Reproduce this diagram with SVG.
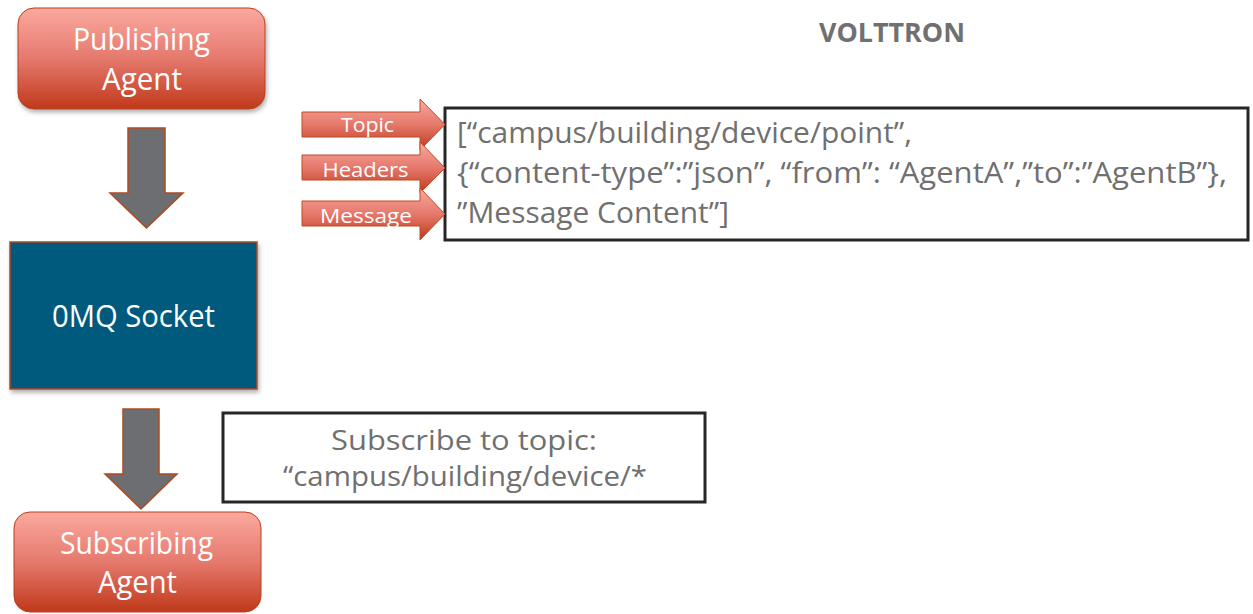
<svg xmlns="http://www.w3.org/2000/svg" width="1253" height="614" viewBox="0 0 1253 614">
  <defs>
    <linearGradient id="redGrad" x1="0" y1="0" x2="0" y2="1">
      <stop offset="0" stop-color="#fba99f"/>
      <stop offset="0.5" stop-color="#e5796d"/>
      <stop offset="1" stop-color="#c0391a"/>
    </linearGradient>
    <filter id="shadow" x="-10%" y="-10%" width="125%" height="130%">
      <feDropShadow dx="1.5" dy="3" stdDeviation="2" flood-color="#000" flood-opacity="0.3"/>
    </filter>
    <style>
      .agent { fill: url(#redGrad); stroke: #b8401c; stroke-width: 1; }
      .small { fill: url(#redGrad); stroke: #bf4a22; stroke-width: 1; }
      .gray { fill: #6d6e71; stroke: #b04a20; stroke-width: 1.5; }
      .box { fill: #ffffff; stroke: #262626; stroke-width: 3; }
      .wt { font-family: "Open Sans", "Liberation Sans", sans-serif; fill: #ffffff; text-anchor: middle; }
      .gt { font-family: "Open Sans", "Liberation Sans", sans-serif; fill: #707070; }
    </style>
  </defs>
  <rect width="1253" height="614" fill="#ffffff"/>

  <text x="892" y="42" font-family="'Open Sans', 'Liberation Sans', sans-serif" font-weight="bold" font-size="27" fill="#707070" text-anchor="middle" textLength="146" lengthAdjust="spacingAndGlyphs">VOLTTRON</text>

  <g id="connectors">
    <path class="gray" d="M128,128 H165 V193 H183 L146.5,228 L110,193 H128 Z"/>
    <path class="gray" d="M123,409 H159 V474 H177 L141,509 L105,474 H123 Z"/>
  </g>

  <g id="publishing-agent">
    <rect class="agent" x="18" y="8" width="247" height="101" rx="16" ry="16" filter="url(#shadow)"/>
    <text class="wt" x="141.5" y="50" font-size="31" textLength="137" lengthAdjust="spacingAndGlyphs">Publishing</text>
    <text class="wt" x="142" y="90" font-size="31" textLength="80" lengthAdjust="spacingAndGlyphs">Agent</text>
  </g>

  <g id="zmq-socket">
    <rect x="10" y="242" width="247" height="147" fill="#015a7e" stroke="#b04a20" stroke-width="1.5" filter="url(#shadow)"/>
    <text class="wt" x="133.5" y="327" font-size="31" textLength="163" lengthAdjust="spacingAndGlyphs">0MQ Socket</text>
  </g>

  <g id="subscribing-agent">
    <rect class="agent" x="14" y="512" width="247" height="100" rx="16" ry="16"/>
    <text class="wt" x="136.5" y="554" font-size="31" textLength="153" lengthAdjust="spacingAndGlyphs">Subscribing</text>
    <text class="wt" x="137.5" y="593" font-size="31" textLength="79" lengthAdjust="spacingAndGlyphs">Agent</text>
  </g>

  <g id="message-box">
    <rect class="box" x="445" y="108" width="803" height="132"/>
    <text class="gt" x="457" y="143" font-size="29" textLength="455" lengthAdjust="spacingAndGlyphs">[“campus/building/device/point”,</text>
    <text class="gt" x="457" y="183" font-size="29" textLength="770" lengthAdjust="spacingAndGlyphs">{“content-type”:”json”, “from”: “AgentA”,”to”:”AgentB”},</text>
    <text class="gt" x="457" y="223" font-size="29" textLength="272" lengthAdjust="spacingAndGlyphs">”Message Content”]</text>
  </g>

  <g id="topic-arrow">
    <path class="small" d="M302,112 H420 V99 L445,124.5 L420,150 V137 H302 Z"/>
    <text class="wt" x="367.5" y="132" font-size="20" textLength="53" lengthAdjust="spacingAndGlyphs">Topic</text>
  </g>
  <g id="headers-arrow">
    <path class="small" d="M302,155 H420 V142 L445,168 L420,193 V180 H302 Z"/>
    <text class="wt" x="365.5" y="177" font-size="20" textLength="86" lengthAdjust="spacingAndGlyphs">Headers</text>
  </g>
  <g id="message-arrow">
    <path class="small" d="M302,201 H420 V188 L445,214 L420,240 V226 H302 Z"/>
    <text class="wt" x="366" y="223" font-size="20" textLength="92" lengthAdjust="spacingAndGlyphs">Message</text>
  </g>

  <g id="subscribe-box">
    <rect class="box" x="223" y="413" width="482" height="89"/>
    <text class="gt" x="464" y="450" font-size="28" text-anchor="middle" textLength="266" lengthAdjust="spacingAndGlyphs">Subscribe to topic:</text>
    <text class="gt" x="465" y="486" font-size="28" text-anchor="middle" textLength="364" lengthAdjust="spacingAndGlyphs">“campus/building/device/*</text>
  </g>
</svg>
